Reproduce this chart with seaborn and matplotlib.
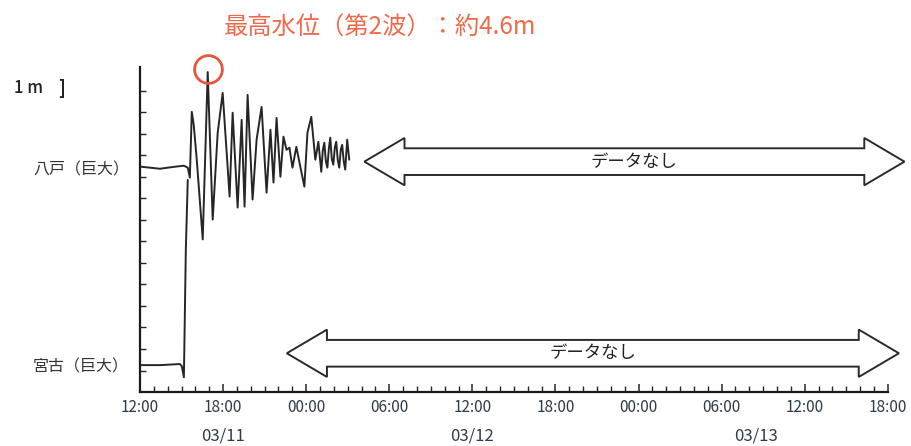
import pandas as pd
import matplotlib.pyplot as plt
from matplotlib.patches import Polygon
from matplotlib.ticker import MultipleLocator, FixedLocator
import seaborn as sns

# Hours after 2011-03-11 12:00 and water level change (m) read from the record
hachinohe_hours = [0.00, 0.72, 1.44, 2.01, 2.59, 3.17, 3.45, 3.60, 3.74, 3.88, 4.10, 4.53,
                   4.89, 5.25, 5.61, 5.97, 6.47, 6.69, 7.05, 7.34, 7.55, 7.77, 8.13, 8.42,
                   8.78, 9.14, 9.42, 9.64, 9.86, 10.14, 10.36, 10.58, 10.79, 11.01, 11.29,
                   11.65, 11.87, 12.09, 12.37, 12.66, 12.88, 13.09, 13.20, 13.31, 13.42,
                   13.53, 13.64, 13.74, 13.85, 13.96, 14.07, 14.17, 14.28, 14.39, 14.50,
                   14.60, 14.71, 14.82, 14.96, 15.11]
hachinohe_level = [0.05, 0.00, -0.05, 0.00, 0.05, 0.09, 0.00, -0.46, 2.59, 1.99, 0.37, -3.33,
                   4.44, -2.41, 1.62, 3.47, -1.34, 2.55, -1.85, 2.22, -1.81, 3.38, -1.48, 1.30,
                   2.82, -1.16, 1.76, -0.69, 2.31, -0.42, 1.44, 0.83, 0.93, 0.00, 0.97,
                   -0.19, -0.88, 1.62, 2.36, 0.37, 1.20, -0.19, 0.80, 1.16, 0.30,
                   0.00, 0.90, 1.39, 0.40, 0.14, 0.95, 1.20, 0.35, 0.00, 0.85,
                   1.06, 0.30, -0.09, 1.30, 0.37]

miyako_hours = [0.00, 1.44, 2.88, 3.02, 3.17, 3.31, 3.45]
miyako_level = [0.00, 0.00, 0.05, -0.05, -0.56, 5.37, 8.60]

station_names = ["八戸（巨大）", "宮古（巨大）"]
station_base = [10.42, 1.25]

# periods without data (hours after 03/11 12:00)
nodata_start = [16.2, 10.6]
nodata_end = [55.2, 54.8]

tick_hours = list(range(0, 55, 6))
tick_labels = ["12:00", "18:00", "00:00", "06:00", "12:00", "18:00",
               "00:00", "06:00", "12:00", "18:00"]
date_hours = [6, 24, 44.5]
date_labels = ["03/11", "03/12", "03/13"]

title = "最高水位（第2波）：約4.6m"

sns.set_theme(style="ticks")
plt.rcParams["font.family"] = ["Noto Sans CJK JP", "DejaVu Sans"]

df = pd.concat([
    pd.DataFrame({"station": station_names[0], "hours": hachinohe_hours,
                  "level": [v + station_base[0] for v in hachinohe_level]}),
    pd.DataFrame({"station": station_names[1], "hours": miyako_hours,
                  "level": [v + station_base[1] for v in miyako_level]}),
])

fig = plt.figure(figsize=(9.12, 4.46), dpi=100)
ax = fig.add_axes([0.1535, 0.121, 0.82, 0.729])

sns.lineplot(data=df, x="hours", y="level", hue="station", units="station",
             estimator=None, sort=False, palette=["#262626", "#262626"],
             linewidth=1.4, legend=False, ax=ax)

ax.set_xlim(0, 54)
ax.set_ylim(0, 15.1)
ax.set_xlabel("")
ax.set_ylabel("")
sns.despine(ax=ax)
for s in ["left", "bottom"]:
    ax.spines[s].set_linewidth(1.6)
    ax.spines[s].set_color("#1a1a1a")

text_col = "#2e3b48"
ax.set_xticks(tick_hours)
ax.set_xticklabels(tick_labels, fontsize=11, color=text_col)
ax.xaxis.set_minor_locator(MultipleLocator(1))
ax.tick_params(axis="x", which="major", direction="in", length=6, width=1.1, pad=5)
ax.tick_params(axis="x", which="minor", direction="in", length=4, width=1)

ax.set_yticks(station_base)
ax.set_yticklabels(station_names, fontsize=11.5, color="#333333")
ax.yaxis.set_minor_locator(FixedLocator(range(1, 15)))
ax.tick_params(axis="y", which="major", length=0, pad=8)
ax.tick_params(axis="y", which="minor", direction="in", length=4, width=1)

for h, lab in zip(date_hours, date_labels):
    ax.text(h, -0.135, lab, transform=ax.get_xaxis_transform(), ha="center", va="center",
            fontsize=12, color=text_col)


def double_arrow(x0, x1, yc, shaft=0.62, head=1.1, head_len=2.9):
    pts = [(x0, yc), (x0 + head_len, yc + head), (x0 + head_len, yc + shaft),
           (x1 - head_len, yc + shaft), (x1 - head_len, yc + head), (x1, yc),
           (x1 - head_len, yc - head), (x1 - head_len, yc - shaft),
           (x0 + head_len, yc - shaft), (x0 + head_len, yc - head)]
    ax.add_patch(Polygon(pts, closed=True, fc="white", ec="#2a2a2a", lw=1.4,
                         clip_on=False, zorder=3))
    ax.text((x0 + x1) / 2, yc, "データなし", ha="center", va="center",
            fontsize=12.5, color="#222222", zorder=4)


double_arrow(nodata_start[0], nodata_end[0], 10.7)
double_arrow(nodata_start[1], nodata_end[1], 1.8)

# circle on the highest wave
i_peak = max(range(len(hachinohe_level)), key=lambda i: hachinohe_level[i])
ax.plot(hachinohe_hours[i_peak], hachinohe_level[i_peak] + station_base[0] + 0.15, "o",
        ms=20, mfc="none", mec="#e8553a", mew=2, clip_on=False, zorder=5)

fig.text(380 / 912, 1 - 28 / 446, title, ha="center", va="center",
         fontsize=17.5, color="#ee6a4a")
fig.text(14 / 912, 1 - 88 / 446, "1 m", ha="left", va="center", fontsize=12,
         fontweight="medium", color="#222222")
fig.text(58 / 912, 1 - 88 / 446, "]", ha="left", va="center", fontsize=13,
         fontweight="bold", color="#222222")

fig.savefig("out.png", dpi=100)
